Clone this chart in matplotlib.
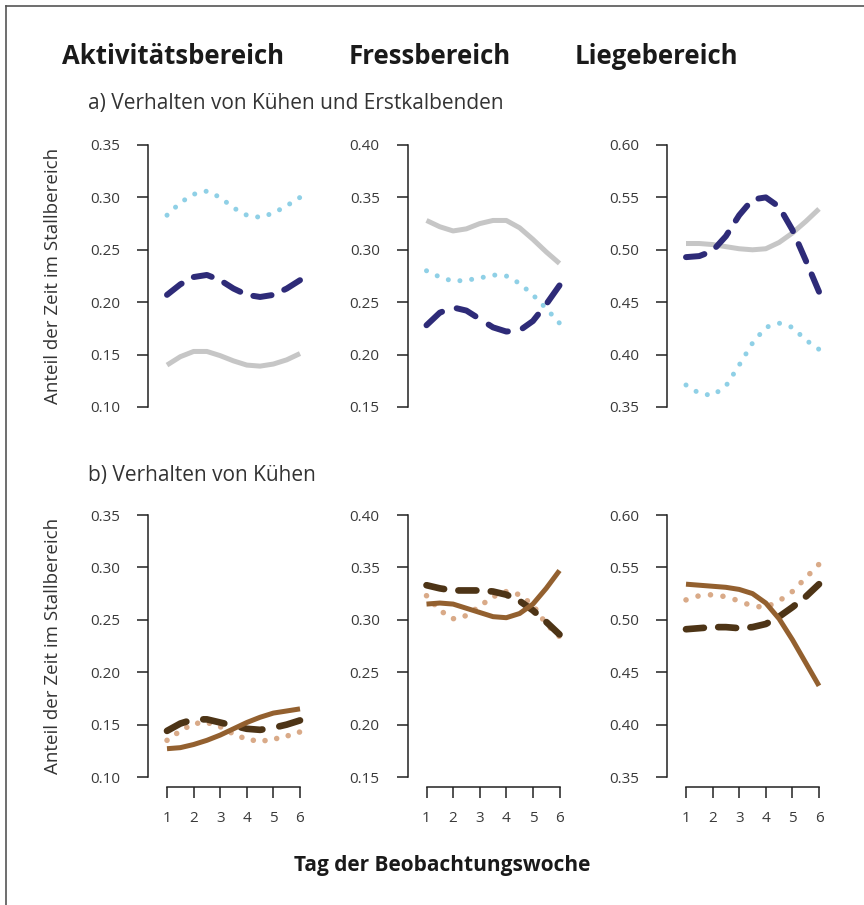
import numpy as np
import matplotlib.pyplot as plt
from matplotlib.lines import Line2D

# Tag der Beobachtungswoche (Werte alle halben Tage)
days = [1, 1.5, 2, 2.5, 3, 3.5, 4, 4.5, 5, 5.5, 6]

# a) Kuehe und Erstkalbende
akt_grau = [0.140, 0.148, 0.153, 0.153, 0.149, 0.144, 0.140, 0.139, 0.141, 0.145, 0.151]
akt_navy = [0.207, 0.217, 0.224, 0.226, 0.221, 0.213, 0.207, 0.205, 0.207, 0.213, 0.221]
akt_blau = [0.283, 0.295, 0.303, 0.306, 0.300, 0.290, 0.283, 0.281, 0.285, 0.292, 0.300]

fress_grau = [0.328, 0.322, 0.318, 0.320, 0.325, 0.328, 0.328, 0.321, 0.310, 0.298, 0.287]
fress_navy = [0.228, 0.240, 0.245, 0.242, 0.234, 0.226, 0.222, 0.223, 0.232, 0.248, 0.266]
fress_blau = [0.280, 0.274, 0.270, 0.271, 0.273, 0.276, 0.275, 0.268, 0.257, 0.244, 0.230]

liege_grau = [0.506, 0.506, 0.505, 0.503, 0.501, 0.500, 0.501, 0.507, 0.516, 0.527, 0.539]
liege_navy = [0.493, 0.494, 0.499, 0.513, 0.533, 0.548, 0.550, 0.541, 0.519, 0.490, 0.460]
liege_blau = [0.371, 0.363, 0.361, 0.370, 0.390, 0.411, 0.426, 0.430, 0.426, 0.414, 0.405]

# b) Kuehe
akt_braun = [0.127, 0.128, 0.131, 0.135, 0.140, 0.146, 0.152, 0.157, 0.161, 0.163, 0.165]
akt_dunkel = [0.144, 0.151, 0.155, 0.155, 0.152, 0.149, 0.146, 0.145, 0.147, 0.150, 0.154]
akt_hell = [0.135, 0.144, 0.151, 0.152, 0.148, 0.141, 0.136, 0.134, 0.136, 0.139, 0.143]

fress_braun = [0.315, 0.316, 0.315, 0.311, 0.307, 0.303, 0.302, 0.306, 0.315, 0.330, 0.347]
fress_dunkel = [0.333, 0.330, 0.328, 0.328, 0.328, 0.327, 0.324, 0.318, 0.309, 0.298, 0.286]
fress_hell = [0.323, 0.309, 0.301, 0.304, 0.313, 0.322, 0.327, 0.324, 0.314, 0.296, 0.284]

liege_braun = [0.534, 0.533, 0.532, 0.531, 0.529, 0.525, 0.516, 0.501, 0.481, 0.459, 0.437]
liege_dunkel = [0.491, 0.492, 0.493, 0.493, 0.492, 0.493, 0.496, 0.503, 0.512, 0.522, 0.534]
liege_hell = [0.519, 0.523, 0.524, 0.522, 0.518, 0.513, 0.512, 0.518, 0.527, 0.540, 0.553]

y_ranges = [(0.10, 0.35), (0.15, 0.40), (0.35, 0.60)]
headings = ['Aktivitätsbereich', 'Fressbereich', 'Liegebereich']

GRAU, NAVY, BLAU = '#c6c6c6', '#2e2b78', '#8fd0e6'
BRAUN, DUNKEL, HELL = '#93602f', '#4d3416', '#d9aa88'

plt.rcParams['font.family'] = ['Open Sans', 'DejaVu Sans']

W, H = 864, 905
fig = plt.figure(figsize=(W / 100, H / 100), dpi=100)

def px_axes(left, top, width, height):
    return fig.add_axes([left / W, 1 - (top + height) / H, width / W, height / H])

def path_len(ax, y, lw):
    # length of the curve in units of the line width
    pts = ax.transData.transform(np.column_stack([days, y]))
    L = np.hypot(*np.diff(pts, axis=0).T).sum() * 72 / fig.dpi
    return L / lw

def solid(ax, y, color, lw=3.6):
    ax.plot(days, y, color=color, lw=lw, solid_capstyle='butt', solid_joinstyle='round')

def dashed(ax, y, color, lw=4.3, on=3.2, off=2.4):
    # stretch the pattern so that both ends of the curve carry a dash
    L = path_len(ax, y, lw)
    n = max(1, round((L - on) / (on + off)))
    s = L / (n * (on + off) + on)
    ax.plot(days, y, color=color, lw=lw, dashes=(on * s, off * s),
            dash_capstyle='round', dash_joinstyle='round')

def dotted(ax, y, color, lw=3.6, gap=2.4):
    # dot at the start and (just inside) the end of the curve
    L = path_len(ax, y, lw)
    n = max(1, round(L / gap))
    period = (L - 0.1) / n
    ax.plot(days, y, color=color, lw=lw, dashes=(0.01, period - 0.01),
            dash_capstyle='round')

rows = [
    [(akt_grau, akt_navy, akt_blau), (fress_grau, fress_navy, fress_blau),
     (liege_grau, liege_navy, liege_blau)],
    [(akt_braun, akt_dunkel, akt_hell), (fress_braun, fress_dunkel, fress_hell),
     (liege_braun, liege_dunkel, liege_hell)],
]

for r, row in enumerate(rows):
    y_top = 145 + 370 * r
    for i, series in enumerate(row):
        lo, hi = y_ranges[i]
        spine_x = 148 + 259.5 * i
        ax = px_axes(spine_x, y_top - 6, 170, 262 + 16)
        ax.set_xlim(1 - 19 / 26.6, 1 + 151 / 26.6)
        ax.set_ylim(lo - 10 / 262 * 0.25, hi + 6 / 262 * 0.25)
        if r == 0:
            dotted(ax, series[2], BLAU)
            solid(ax, series[0], GRAU)
            dashed(ax, series[1], NAVY)
        else:
            dotted(ax, series[2], HELL, lw=4.0, gap=2.2)
            dashed(ax, series[1], DUNKEL, lw=4.8, on=3.0)
            solid(ax, series[0], BRAUN)

        for s in ['top', 'right']:
            ax.spines[s].set_visible(False)
        ax.spines['left'].set_bounds(lo, hi)
        ax.spines['left'].set_linewidth(1.1)
        ax.spines['left'].set_color('#222222')
        ticks = [lo + k * 0.05 for k in range(6)]
        ax.set_yticks(ticks)
        ax.set_yticklabels([f'{t:.2f}' for t in ticks])
        ax.tick_params(axis='y', length=8, width=1.1, color='#222222', pad=12,
                       labelsize=11, labelcolor='#3a3a3a')
        if r == 1:
            ax.spines['bottom'].set_bounds(1, 6)
            ax.spines['bottom'].set_linewidth(1.1)
            ax.spines['bottom'].set_color('#222222')
            ax.set_xticks(range(1, 7))
            ax.tick_params(axis='x', length=8, width=1.1, color='#222222', pad=9,
                           labelsize=11, labelcolor='#3a3a3a')
        else:
            ax.spines['bottom'].set_visible(False)
            ax.set_xticks([])
        ax.patch.set_alpha(0)

    fig.text(53 / W, 1 - (y_top + 131) / H, 'Anteil der Zeit im Stallbereich',
             rotation=90, ha='center', va='center', fontsize=13.5, color='#333333')

for x, name in zip([62, 349, 575], headings):
    fig.text(x / W, 1 - 64 / H, name, ha='left', va='baseline', fontsize=18.5,
             fontweight='bold', color='#1a1a1a')

fig.text(88 / W, 1 - 104 / H, 'a) Verhalten von Kühen und Erstkalbenden',
         ha='left', va='center', fontsize=15, color='#333333')
fig.text(88 / W, 1 - 475 / H, 'b) Verhalten von Kühen',
         ha='left', va='center', fontsize=15, color='#333333')
fig.text(442 / W, 1 - 865 / H, 'Tag der Beobachtungswoche', ha='center', va='center',
         fontsize=15, fontweight='bold', color='#1a1a1a')

# Rahmen oben und links
fig.add_artist(Line2D([5.5 / W, 5.5 / W], [0, 1 - 6.5 / H], color='#555555', lw=1.2))
fig.add_artist(Line2D([5.5 / W, 1], [1 - 6.5 / H, 1 - 6.5 / H], color='#555555', lw=1.2))

fig.savefig('out.png', dpi=100)
